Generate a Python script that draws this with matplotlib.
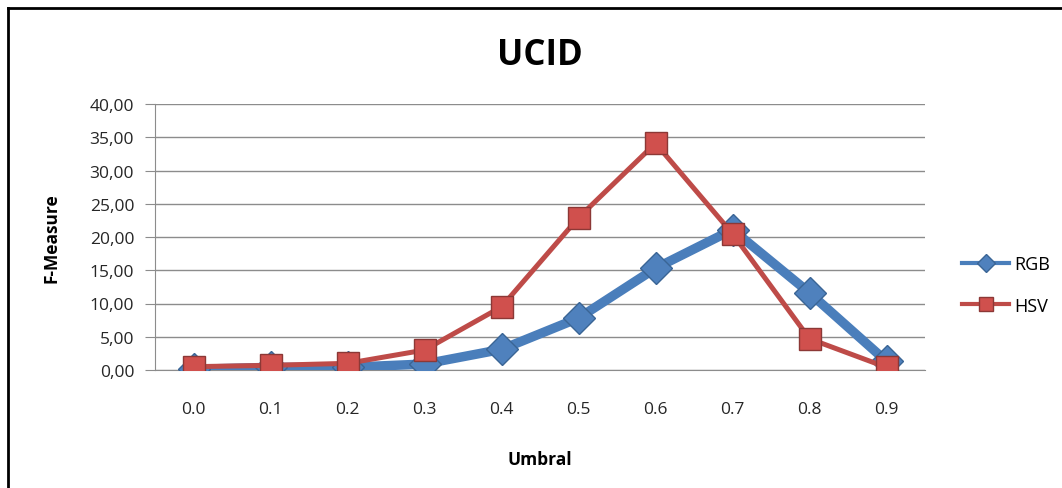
import matplotlib
matplotlib.use("Agg")
import matplotlib.pyplot as plt
from matplotlib.lines import Line2D

# Data
categories = ["0.0", "0.1", "0.2", "0.3", "0.4", "0.5", "0.6", "0.7", "0.8", "0.9"]
rgb = [0.1, 0.4, 0.4, 0.9, 3.1, 7.8, 15.3, 21.1, 11.6, 1.3]
hsv = [0.5, 0.7, 1.0, 3.0, 9.5, 22.9, 34.1, 20.5, 4.7, 0.4]
yticks = [0, 5, 10, 15, 20, 25, 30, 35, 40]
ytick_labels = ["0,00", "5,00", "10,00", "15,00", "20,00", "25,00", "30,00", "35,00", "40,00"]

FONT = ["Open Sans", "DejaVu Sans"]
plt.rcParams['font.family'] = FONT

fig = plt.figure(figsize=(10.62, 4.89), dpi=100)
ax = fig.add_axes([155/1062, 1-371/489, 770/1062, 266/489])

x = list(range(len(categories)))
blue_line = "#4A7EBB"
blue_face = "#4F81BD"
blue_edge = "#3A6595"
red_line = "#BE4B48"
red_face = "#D0504D"
red_edge = "#8C3836"

ax.plot(x, rgb, color=blue_line, lw=6.8, marker="D", ms=16,
        markerfacecolor=blue_face, markeredgecolor=blue_edge, markeredgewidth=1.0,
        solid_joinstyle="round", zorder=3, label="RGB")
ax.plot(x, hsv, color=red_line, lw=3.6, marker="s", ms=16,
        markerfacecolor=red_face, markeredgecolor=red_edge, markeredgewidth=1.0,
        zorder=4, label="HSV")

ax.set_xlim(-0.5, len(categories) - 0.5)
ax.set_ylim(0, 40)
ax.set_yticks(yticks)
ax.set_yticklabels(ytick_labels)
ax.set_xticks(x)
ax.set_xticklabels(categories)
ax.yaxis.grid(True, color="#8C8C8C", lw=1.0)
ax.set_axisbelow(True)
for s in ["top", "right"]:
    ax.spines[s].set_visible(False)
ax.spines["left"].set_color("#8C8C8C")
ax.spines["bottom"].set_color("#8C8C8C")
ax.tick_params(axis="y", length=7, color="#8C8C8C", labelsize=12.5, labelcolor="#262626", pad=8)
ax.tick_params(axis="x", length=0, labelsize=12.5, labelcolor="#262626", pad=22)

ax.set_ylabel("F-Measure", fontsize=12.5, fontweight="bold", labelpad=21, color="#000000")
ax.set_xlabel("Umbral", fontsize=12.5, fontweight="bold", labelpad=24, color="#000000")
ax.set_title("UCID", fontsize=25, fontweight="bold", pad=29)

handles = [
    Line2D([0], [0], color=blue_line, lw=3.0, marker="D", ms=9,
           markerfacecolor=blue_face, markeredgecolor=blue_edge),
    Line2D([0], [0], color=red_line, lw=3.0, marker="s", ms=10,
           markerfacecolor=red_face, markeredgecolor=red_edge),
]
fig.legend(handles, ["RGB", "HSV"], loc="center left", bbox_to_anchor=(946/1062, 1-286/489),
           frameon=False, fontsize=13, handlelength=2.6, labelspacing=1.3, handletextpad=0.3)

# outer frame (top and left edges visible)
fig.add_artist(Line2D([8/1062, 1.0], [1-9/489, 1-9/489], transform=fig.transFigure, color="black", lw=2))
fig.add_artist(Line2D([8/1062, 8/1062], [0, 1-9/489], transform=fig.transFigure, color="black", lw=2))

fig.savefig("out.png", dpi=100)
